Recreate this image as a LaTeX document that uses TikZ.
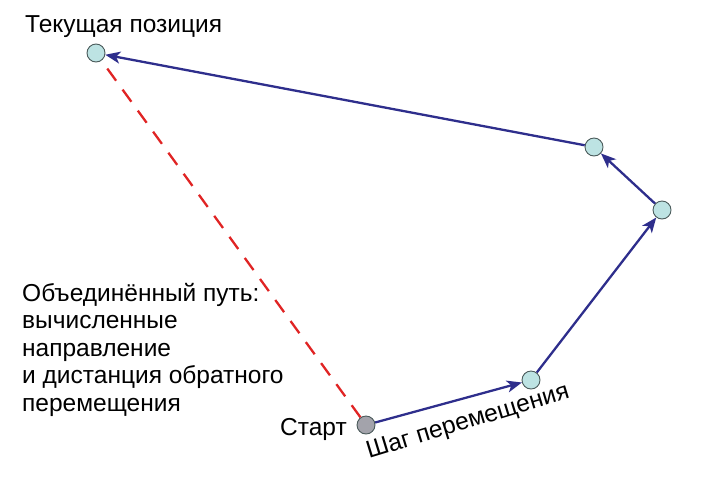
\documentclass[tikz,border=0pt]{standalone}
\usepackage{fontspec}
\setmainfont{Liberation Sans}
\usetikzlibrary{arrows.meta}
\definecolor{ptfill}{HTML}{BDE3E3}
\definecolor{ptdraw}{HTML}{4A5A5A}
\definecolor{startfill}{HTML}{A3A3AB}
\definecolor{arrowc}{HTML}{2E2E8C}
\definecolor{dashc}{HTML}{E02424}
\begin{document}
\begin{tikzpicture}[x=1pt,y=-1pt,
  pt/.style={circle,draw=ptdraw,fill=ptfill,line width=0.9pt,minimum size=18pt,inner sep=0pt},
  startpt/.style={pt,fill=startfill},
  stepline/.style={draw=arrowc,line width=2.3pt,-{Stealth[length=15pt,width=12pt,inset=4pt]}},
  backline/.style={draw=dashc,line width=2.3pt,dash pattern=on 15pt off 11pt},
  lbl/.style={font=\fontsize{24.5}{27.5}\selectfont,inner sep=0pt}]
\useasboundingbox (0,0) rectangle (703,480);
\node[pt] (cur) at (96,53) {};
\node[pt] (p3) at (594,147) {};
\node[pt] (p2) at (662,210) {};
\node[pt] (p1) at (531,380) {};
\node[startpt] (st) at (366,425) {};
\draw[backline] (st) -- (cur);
\draw[stepline] (st) -- (p1);
\draw[stepline] (p1) -- (p2);
\draw[stepline] (p2) -- (p3);
\draw[stepline] (p3) -- (cur);
\node[lbl,anchor=base west] (tcur) at (25,32) {Текущая позиция};
\node[lbl,anchor=base west,align=left] (tpath) at (22,411) {Объединённый путь:\\вычисленные\\направление\\и дистанция обратного\\перемещения};
\node[lbl,anchor=base east] (tst) at (347,435) {Старт};
\node[lbl,anchor=base west,rotate=17] (tstep) at (369,459) {Шаг перемещения};
\end{tikzpicture}
\end{document}
